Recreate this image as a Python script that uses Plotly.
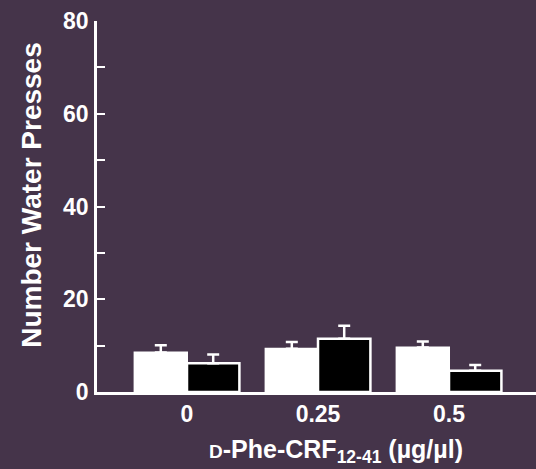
import plotly.graph_objects as go

categories = ["0", "0.25", "0.5"]
white_vals = [8.5, 9.3, 9.6]
white_err = [1.6, 1.5, 1.3]
black_vals = [6.2, 11.5, 4.6]
black_err = [1.9, 2.8, 1.2]
y_tickvals = [0, 20, 40, 60, 80]
y_minor = [10, 30, 50, 70]

BG = "#45344a"
FONT = "Liberation Sans, Arial, sans-serif"

fig = go.Figure()
fig.add_trace(go.Bar(
    x=categories, y=white_vals,
    marker=dict(color="white", line=dict(color="white", width=2)),
    error_y=dict(type="data", array=white_err, arrayminus=[0]*3, symmetric=False,
                 color="white", thickness=2.5, width=6),
    showlegend=False,
))
fig.add_trace(go.Bar(
    x=categories, y=black_vals,
    marker=dict(color="black", line=dict(color="white", width=2.5)),
    error_y=dict(type="data", array=black_err, arrayminus=[0]*3, symmetric=False,
                 color="white", thickness=2.5, width=6),
    showlegend=False,
))

fig.update_layout(
    width=536, height=469,
    paper_bgcolor=BG, plot_bgcolor=BG,
    margin=dict(l=97, r=0, t=21, b=77),
    barmode="group", bargap=0.2, bargroupgap=0,
    font=dict(family=FONT, color="white"),
    xaxis=dict(
        type="category", range=[-0.687, 2.664],
        showline=True, linecolor="white", linewidth=2.5,
        ticks="", showgrid=False, zeroline=False,
        tickfont=dict(size=23, color="white", family=FONT, weight="bold"),
        ticklabelstandoff=0,
    ),
    yaxis=dict(
        range=[0, 80], tickvals=y_tickvals,
        showline=True, linecolor="white", linewidth=2.5,
        ticks="inside", ticklen=8, tickwidth=2, tickcolor="white",
        minor=dict(tickvals=y_minor, ticks="inside", ticklen=8, tickwidth=2, tickcolor="white"),
        showgrid=False, zeroline=False,
        tickfont=dict(size=23, color="white", family=FONT, weight="bold"),
        ticklabelstandoff=1,
    ),
    annotations=[
        dict(text="Number Water Presses", textangle=-90, xref="paper", yref="paper",
             x=-0.15, y=0.532, xanchor="center", yanchor="middle", showarrow=False,
             font=dict(size=28, color="white", family=FONT, weight="bold")),
        dict(text="<span style='font-size:19px'>D</span>-Phe-CRF<sub>12-41</sub> (µg/µl)",
             xref="paper", yref="paper", x=0.545, y=-0.16, xanchor="center", yanchor="middle",
             showarrow=False, font=dict(size=25, color="white", family=FONT, weight="bold")),
    ],
)

fig.write_html("out.html", config={"displayModeBar": False},
               post_script="document.body.style.margin='0';")
